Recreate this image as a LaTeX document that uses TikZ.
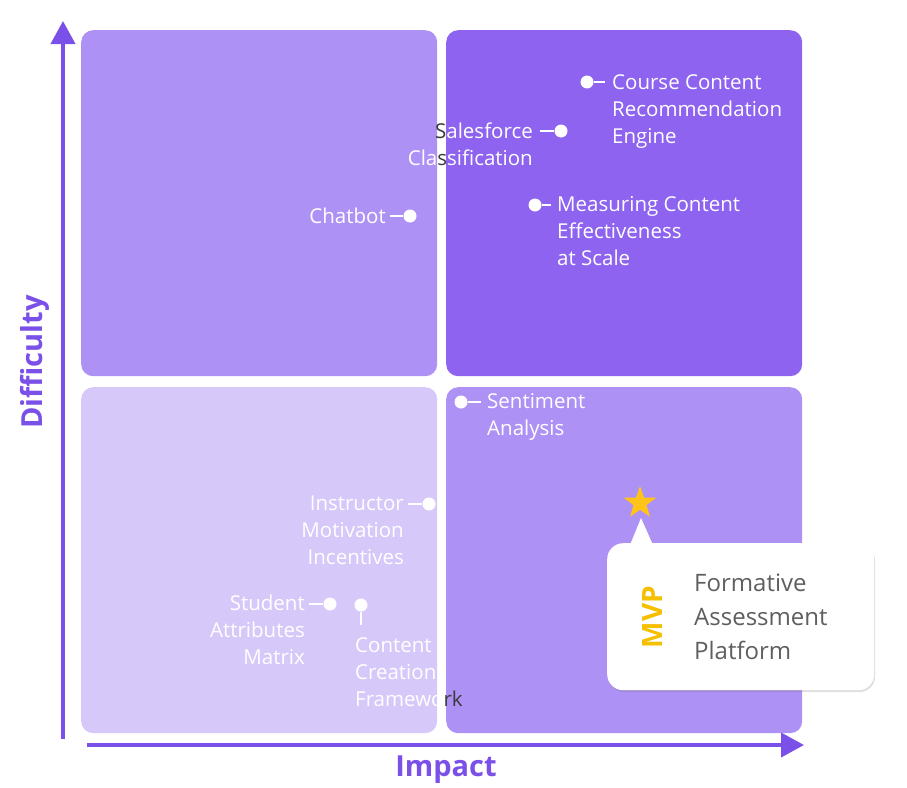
\documentclass[tikz,border=0pt]{standalone}
\usepackage{fontspec}
\setmainfont{Open Sans}
\usetikzlibrary{shapes.geometric,arrows.meta,shadows}
\definecolor{axisc}{HTML}{7A50E8}
\definecolor{qmid}{HTML}{AE91F4}
\definecolor{qdark}{HTML}{8D63EF}
\definecolor{qlight}{HTML}{D6C9F9}
\definecolor{starc}{HTML}{FFC31A}
\definecolor{mvpc}{HTML}{F5C000}
\definecolor{graytext}{HTML}{5F5F5F}
\definecolor{darkt}{HTML}{3A3A3A}
\tikzset{
  quad/.style={rounded corners=12pt,minimum width=356pt,minimum height=346pt,anchor=north west,inner sep=0pt,draw=none},
  axisline/.style={draw=axisc,line width=4pt,-{Triangle[width=24pt,length=23pt]}},
  axislbl/.style={text=axisc,font=\bfseries\fontsize{29}{34}\selectfont,inner sep=0pt},
  dot/.style={circle,fill=white,minimum size=13pt,inner sep=0pt},
  conn/.style={draw=white,line width=2.5pt},
  lbl/.style={text=white,font=\fontsize{20.5}{27}\selectfont,inner sep=0pt},
}
\begin{document}
\begin{tikzpicture}[x=1pt,y=-1pt]
\useasboundingbox (0,0) rectangle (907,787);
% quadrants
\node[quad,fill=qmid] (qtl) at (81,30) {};
\node[quad,fill=qdark] (qtr) at (446,30) {};
\node[quad,fill=qlight] (qbl) at (81,387) {};
\node[quad,fill=qmid] (qbr) at (446,387) {};
% axes
\coordinate (yo) at (63,739);
\coordinate (yt) at (63,21);
\coordinate (xo) at (87,745);
\coordinate (xt) at (804,745);
\draw[axisline] (yo) -- (yt);
\draw[axisline] (xo) -- (xt);
\node[axislbl,rotate=90] (ylab) at (35,362) {Difficulty};
\node[axislbl] (xlab) at (446,770) {Impact};
% Course Content Recommendation Engine
\node[dot] (d1) at (587,82) {};
\coordinate (c1) at (605,82);
\draw[conn] (d1) -- (c1);
\node[lbl,anchor=north west,align=left] (l1) at (612,74) {Course Content\\Recommendation\\Engine};
% Salesforce Classification
\node[dot] (d2) at (561,131) {};
\coordinate (c2) at (540,131);
\draw[conn] (d2) -- (c2);
\node[lbl,anchor=north east,align=right] (l2) at (533,123) {{\color{darkt}S}alesforce\\Cla{\color{darkt}s}sification};
% Chatbot
\node[dot] (d3) at (410,216) {};
\coordinate (c3) at (390,216);
\draw[conn] (d3) -- (c3);
\node[lbl,anchor=north east,align=right] (l3) at (386,208) {Chatbot};
% Measuring Content Effectiveness at Scale
\node[dot] (d4) at (535,205) {};
\coordinate (c4) at (551,205);
\draw[conn] (d4) -- (c4);
\node[lbl,anchor=north west,align=left] (l4) at (557,196) {Measuring Content\\Effectiveness\\at Scale};
% Sentiment Analysis
\node[dot] (d5) at (461,402) {};
\coordinate (c5) at (481,402);
\draw[conn] (d5) -- (c5);
\node[lbl,anchor=north west,align=left] (l5) at (487,393) {Sentiment\\Analysis};
% Instructor Motivation Incentives
\node[dot] (d6) at (429,504) {};
\coordinate (c6) at (408,504);
\draw[conn] (d6) -- (c6);
\node[lbl,anchor=north east,align=right] (l6) at (404,496) {Instructor\\Motivation\\Incentives};
% Student Attributes Matrix
\node[dot] (d7) at (330,604) {};
\coordinate (c7) at (309,604);
\draw[conn] (d7) -- (c7);
\node[lbl,anchor=north east,align=right] (l7) at (305,595) {Student\\Attributes\\Matrix};
% Content Creation Framework
\node[dot] (d8) at (361,605) {};
\coordinate (c8) at (361,625);
\draw[conn] (d8) -- (c8);
\node[lbl,anchor=north west,align=left] (l8) at (355,637) {Content\\Creation\\Framewo{\color{darkt}rk}};
% MVP callout
\node[star,star points=5,star point ratio=2.5,fill=starc,minimum size=34pt,inner sep=0pt] (st) at (640,503) {};
\node[fill=white,rounded corners=16pt,minimum width=267pt,minimum height=147pt,anchor=north west,inner sep=0pt,drop shadow={opacity=0.25,shadow xshift=1pt,shadow yshift=-2pt}] (call) at (607,543) {};
\coordinate (pa) at (630,545);
\coordinate (pb) at (653,545);
\coordinate (ptip) at (641,518);
\fill[white] (pa) -- (ptip) -- (pb) -- cycle;
\node[text=mvpc,font=\bfseries\fontsize{28}{30}\selectfont,rotate=90,inner sep=0pt] (mvp) at (652,617) {MVP};
\node[text=graytext,font=\fontsize{24}{34}\selectfont,anchor=north west,align=left,inner sep=0pt] (fap) at (694,574) {Formative\\Assessment\\Platform};
\end{tikzpicture}
\end{document}
